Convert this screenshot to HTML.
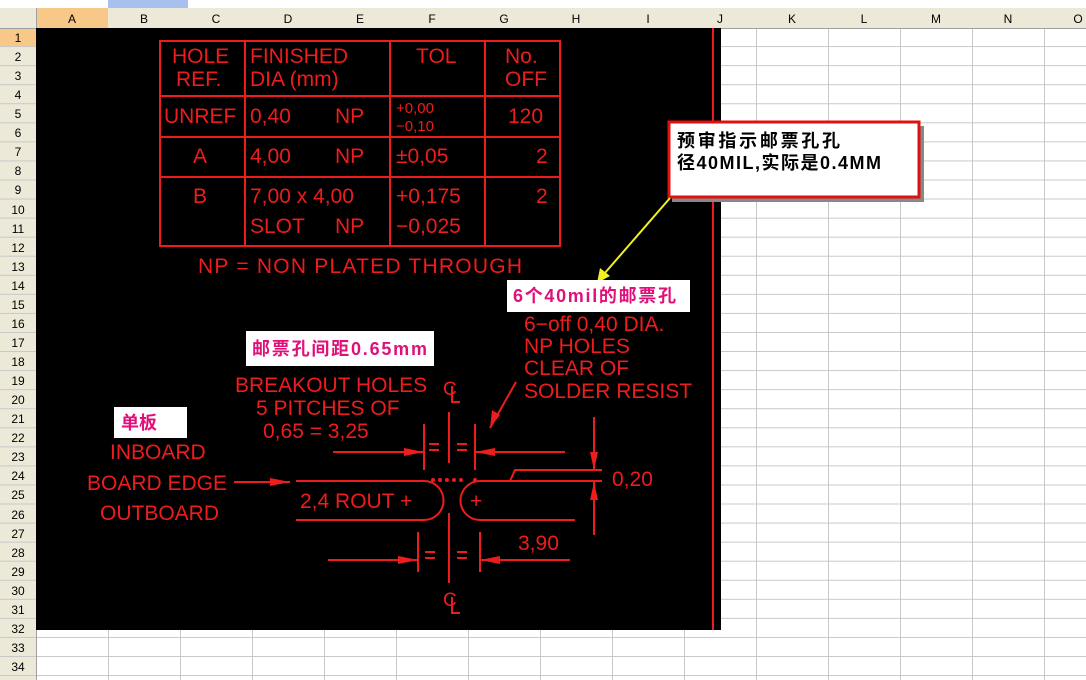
<!DOCTYPE html>
<html><head><meta charset="utf-8"><style>
html,body{margin:0;padding:0;width:1086px;height:680px;overflow:hidden;background:#fff}
svg{display:block}
.r{fill:#ee1c1c;font-family:"Liberation Sans",sans-serif;font-size:21px}
.h{font-family:"Liberation Sans",sans-serif;font-size:12px;fill:#000;text-anchor:middle}
.c{font-family:"Liberation Sans","Noto Sans CJK SC",sans-serif;font-weight:bold}
</style></head><body>
<svg width="1086" height="680" xmlns="http://www.w3.org/2000/svg">
<defs><pattern id="rp" x="0" y="28" width="1086" height="19.06" patternUnits="userSpaceOnUse"><line x1="0" y1="18.6" x2="1086" y2="18.6" stroke="#c8c8c8" stroke-width="1"/></pattern></defs>
<rect x="0" y="0" width="1086" height="8" fill="#fff"/>
<rect x="108" y="0" width="80" height="8" fill="#a8c0ee"/>
<rect x="0" y="8" width="1086" height="20" fill="#ece9d8"/>
<rect x="36" y="8" width="72" height="20" fill="#f8c888"/>
<rect x="0" y="28" width="36" height="652" fill="#ece9d8"/>
<rect x="0" y="28" width="36" height="19" fill="#f8c888"/>
<rect x="0" y="28" width="1086" height="652" fill="url(#rp)"/>
<g stroke="#c8c8c8" stroke-width="1">
<line x1="756.5" y1="28" x2="756.5" y2="680"/><line x1="828.5" y1="28" x2="828.5" y2="680"/><line x1="900.5" y1="28" x2="900.5" y2="680"/><line x1="972.5" y1="28" x2="972.5" y2="680"/><line x1="1044.5" y1="28" x2="1044.5" y2="680"/>
<line x1="108.5" y1="630" x2="108.5" y2="680"/><line x1="180.5" y1="630" x2="180.5" y2="680"/><line x1="252.5" y1="630" x2="252.5" y2="680"/><line x1="324.5" y1="630" x2="324.5" y2="680"/><line x1="396.5" y1="630" x2="396.5" y2="680"/><line x1="468.5" y1="630" x2="468.5" y2="680"/><line x1="540.5" y1="630" x2="540.5" y2="680"/><line x1="612.5" y1="630" x2="612.5" y2="680"/><line x1="684.5" y1="630" x2="684.5" y2="680"/>
</g>
<g stroke="#a0a0a0"><line x1="36.5" y1="8" x2="36.5" y2="680"/><line x1="0" y1="28.5" x2="1086" y2="28.5"/></g>
<g class="h">
<text x="72" y="23">A</text><text x="144" y="23">B</text><text x="216" y="23">C</text><text x="288" y="23">D</text><text x="360" y="23">E</text><text x="432" y="23">F</text><text x="504" y="23">G</text><text x="576" y="23">H</text><text x="648" y="23">I</text><text x="720" y="23">J</text><text x="792" y="23">K</text><text x="864" y="23">L</text><text x="936" y="23">M</text><text x="1008" y="23">N</text><text x="1078" y="23">O</text>
<text x="18" y="42">1</text><text x="18" y="61">2</text><text x="18" y="80">3</text><text x="18" y="99">4</text><text x="18" y="118">5</text><text x="18" y="137">6</text><text x="18" y="156">7</text><text x="18" y="175">8</text><text x="18" y="194">9</text><text x="18" y="214">10</text><text x="18" y="233">11</text><text x="18" y="252">12</text><text x="18" y="271">13</text><text x="18" y="290">14</text><text x="18" y="309">15</text><text x="18" y="328">16</text><text x="18" y="347">17</text><text x="18" y="366">18</text><text x="18" y="385">19</text><text x="18" y="404">20</text><text x="18" y="423">21</text><text x="18" y="442">22</text><text x="18" y="461">23</text><text x="18" y="480">24</text><text x="18" y="499">25</text><text x="18" y="519">26</text><text x="18" y="538">27</text><text x="18" y="557">28</text><text x="18" y="576">29</text><text x="18" y="595">30</text><text x="18" y="614">31</text><text x="18" y="633">32</text><text x="18" y="652">33</text><text x="18" y="671">34</text>
</g>
<rect x="36" y="28" width="685" height="602" fill="#000"/>
<line x1="713" y1="28" x2="713" y2="630" stroke="#ee1c1c" stroke-width="2"/>
<g stroke="#ee1c1c" stroke-width="2" fill="none">
<rect x="160" y="41" width="400" height="205"/>
<line x1="245" y1="41" x2="245" y2="246"/><line x1="390" y1="41" x2="390" y2="246"/><line x1="485" y1="41" x2="485" y2="246"/>
<line x1="160" y1="96" x2="560" y2="96"/><line x1="160" y1="137" x2="560" y2="137"/><line x1="160" y1="177" x2="560" y2="177"/>
</g>
<g class="r">
<text x="172" y="63">HOLE</text><text x="176" y="86">REF.</text>
<text x="250" y="63">FINISHED</text><text x="250" y="86">DIA (mm)</text>
<text x="416" y="63">TOL</text>
<text x="505" y="63">No.</text><text x="505" y="86">OFF</text>
<text x="164" y="123">UNREF</text><text x="250" y="123">0,40</text><text x="335" y="123">NP</text>
<text x="396" y="113" font-size="15">+0,00</text><text x="396" y="131" font-size="15">−0,10</text>
<text x="508" y="123">120</text>
<text x="193" y="163">A</text><text x="250" y="163">4,00</text><text x="335" y="163">NP</text><text x="396" y="163">±0,05</text><text x="536" y="163">2</text>
<text x="193" y="203">B</text><text x="250" y="203">7,00 x 4,00</text><text x="396" y="203">+0,175</text><text x="536" y="203">2</text>
<text x="250" y="233">SLOT</text><text x="335" y="233">NP</text><text x="396" y="233">−0,025</text>
<text x="198" y="273" textLength="324">NP = NON PLATED THROUGH</text>
<text x="524" y="331">6−off 0,40 DIA.</text>
<text x="524" y="353">NP HOLES</text>
<text x="524" y="375">CLEAR OF</text>
<text x="524" y="398">SOLDER RESIST</text>
<text x="235" y="392">BREAKOUT HOLES</text>
<text x="256" y="415">5 PITCHES OF</text>
<text x="263" y="438">0,65 = 3,25</text>
<text x="110" y="459">INBOARD</text>
<text x="87" y="490">BOARD EDGE</text>
<text x="100" y="520">OUTBOARD</text>
<text x="300" y="508">2,4 ROUT +</text>
<text x="470" y="508">+</text>
<text x="612" y="486">0,20</text>
<text x="518" y="550">3,90</text>
<text x="443" y="395" font-size="19">C</text><text x="443" y="606" font-size="19">C</text>
</g>
<g stroke="#ee1c1c" stroke-width="2" fill="none">
<path d="M452 386 V402 H460 M452 597 V613 H460"/>
<line x1="449" y1="412" x2="449" y2="463"/><line x1="449" y1="513" x2="449" y2="583"/>
<line x1="424" y1="424" x2="424" y2="470"/><line x1="475" y1="424" x2="475" y2="470"/>
<line x1="333" y1="452" x2="424" y2="452"/><line x1="475" y1="452" x2="565" y2="452"/>
<line x1="418" y1="532" x2="418" y2="572"/><line x1="480" y1="532" x2="480" y2="572"/>
<line x1="328" y1="560" x2="418" y2="560"/><line x1="480" y1="560" x2="570" y2="560"/>
<path d="M296 481 H424 A19.5 19.5 0 0 1 424 520 H296"/>
<path d="M575 520 H480 A19.5 19.5 0 0 1 480 481 H510 L515 470 H602"/>
<line x1="480" y1="481" x2="602" y2="481"/>
<line x1="594" y1="417" x2="594" y2="470"/><line x1="594" y1="482" x2="594" y2="535"/>
<line x1="234" y1="482" x2="290" y2="482"/>
<line x1="516" y1="382" x2="490" y2="428"/>
<path d="M429 444 h10 M429 450 h10 M457 444 h10 M457 450 h10 M425 552 h10 M425 558 h10 M457 552 h10 M457 558 h10"/>
</g>
<g fill="#ee1c1c">
<polygon points="424,452 404,448 404,456"/><polygon points="475,452 495,448 495,456"/>
<polygon points="418,560 398,556 398,564"/><polygon points="480,560 500,556 500,564"/>
<polygon points="594,470 590,452 598,452"/><polygon points="594,482 590,500 598,500"/>
<polygon points="290,482 270,478 270,486"/><polygon points="490,428 492,410 500,415"/>
<circle cx="433" cy="480" r="2"/><circle cx="440" cy="480" r="2"/><circle cx="447" cy="480" r="2"/><circle cx="454" cy="480" r="2"/><circle cx="461" cy="480" r="2"/><circle cx="475" cy="480" r="2"/>
</g>
<rect x="672" y="126" width="252" height="76" fill="#888"/>
<rect x="669" y="122" width="250" height="75" fill="#fff" stroke="#e01010" stroke-width="3"/>
<text class="c" x="677" y="147" font-size="18" fill="#000" textLength="163">预审指示邮票孔孔</text>
<text class="c" x="677" y="169" font-size="18" fill="#000" textLength="204">径40MIL,实际是0.4MM</text>
<line x1="670" y1="198" x2="604" y2="274" stroke="#f0f020" stroke-width="2"/>
<polygon points="597,283 600,268 610,276" fill="#f0f020"/>
<rect x="507" y="280" width="183" height="32" fill="#fff"/>
<text class="c" x="513" y="302" font-size="18" fill="#e0107a" textLength="163">6个40mil的邮票孔</text>
<rect x="246" y="331" width="188" height="35" fill="#fff"/>
<text class="c" x="252" y="355" font-size="18" fill="#e0107a" textLength="175">邮票孔间距0.65mm</text>
<rect x="114" y="407" width="73" height="31" fill="#fff"/>
<text class="c" x="121" y="429" font-size="18" fill="#e0107a">单板</text>
</svg>
</body></html>
